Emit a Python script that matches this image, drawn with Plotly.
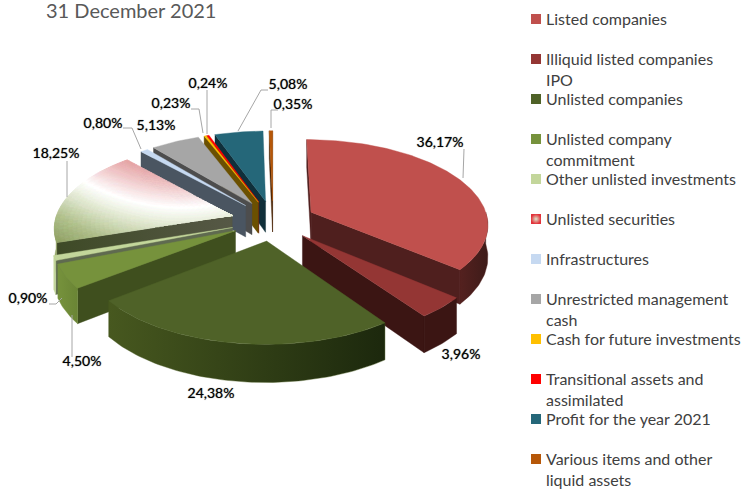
import math
import plotly.graph_objects as go

categories = ["Listed companies", "Illiquid listed companies<br>IPO", "Unlisted companies",
              "Unlisted company<br>commitment", "Other unlisted investments", "Unlisted securities",
              "Infrastructures", "Unrestricted management<br>cash", "Cash for future investments",
              "Transitional assets and<br>assimilated", "Profit for the year 2021",
              "Various items and other<br>liquid assets"]
values = [36.17, 3.96, 24.38, 4.50, 0.90, 18.25, 0.80, 5.13, 0.23, 0.24, 5.08, 0.35]
top_colors = ["#C0504D", "#943634", "#4F6228", "#76923C", "#C3D69B", "#D9363A",
              "#C6D9F1", "#A6A6A6", "#FFC000", "#FF0000", "#256779", "#B65708"]
wall_colors = ["#4F1F1E", "#3B1513", "#3F4F1E", "#3F4F1E", "#5F6A50", "#51553F",
               "#4A5561", "#4D4D4D", "#6B5000", "#701010", "#102F3A", "#4A2404"]
rim_colors = [("#54211F", "#3E1B19"), ("#3B1513", "#3B1513"), ("#47581F", "#1C280D"),
              ("#76923C", "#6A8535"), ("#C3D69B", "#C3D69B"), ("#93A566", "#93A566"),
              ("#C6D9F1", "#C6D9F1"), ("#A6A6A6", "#A6A6A6"), ("#FFC000", "#FFC000"),
              ("#FF0000", "#FF0000"), ("#256779", "#256779"), ("#B65708", "#B65708")]
title_text = "31 December 2021"

# label centre and leader polyline for each slice
label_pos = [(440, 143), (461, 355), (211, 394), (82, 362), (28, 299), (56, 154),
             (103, 124), (156, 126), (171, 104), (208, 84), (288, 85), (293, 105)]
leaders = [[(464, 149), (463, 178)], None, None, [(72, 357), (72, 315)],
           [(49, 304), (56, 304), (62, 298)], [(67, 161), (67, 197)],
           [(123, 128), (132, 128), (141, 149)], None,
           [(191, 109), (199, 109), (203, 133)], [(207, 90), (207, 134)],
           [(268, 90), (261, 90), (238, 131)], [(278, 110), (271, 110), (271, 128)]]

CX, CY, RX, RY, PERSP, HEIGHT, EXPLODE = 273, 220.5, 177, 84, 0.13, 32, 0.24
GRAD_CENTRE = (182, 10)
GRAD_STOPS = [(150, "#DE8B8D"), (175, "#EFC6C7"), (197, "#FFFFFF"), (215, "#E2E9D2"),
              (240, "#B0C08C"), (265, "#8C9E5E")]
WALL_GRADIENTS = {5: ("#3E4A26", "#565846")}
FONT = "Lato"


def project(x, y, z=0.0):
    s = 1 / (1 + PERSP * y)
    return CX + RX * x * s, CY - RY * y * s + HEIGHT * z * s


def hex_rgb(c):
    return tuple(int(c[i:i + 2], 16) for i in (1, 3, 5))


def grad_color(px, py):
    d = math.hypot(px - GRAD_CENTRE[0], py - GRAD_CENTRE[1])
    if d <= GRAD_STOPS[0][0]:
        return GRAD_STOPS[0][1]
    for (d0, c0), (d1, c1) in zip(GRAD_STOPS, GRAD_STOPS[1:]):
        if d <= d1:
            t = (d - d0) / (d1 - d0)
            a, b = hex_rgb(c0), hex_rgb(c1)
            return "#%02X%02X%02X" % tuple(round(a[i] + (b[i] - a[i]) * t) for i in range(3))
    return GRAD_STOPS[-1][1]


fig = go.Figure()


def poly(points, color, gradient=None):
    xs = [p[0] for p in points] + [points[0][0]]
    ys = [p[1] for p in points] + [points[0][1]]
    kw = dict(fillcolor=color)
    if gradient:
        kw = dict(fillgradient=dict(type="horizontal",
                                    colorscale=[[0, gradient[0]], [1, gradient[1]]]))
    fig.add_trace(go.Scatter(x=xs, y=ys, mode="lines", fill="toself",
                             line=dict(width=0.4, color=color), hoverinfo="skip", **kw))


total = sum(values)
slices = []
acc = 0.0
for i, v in enumerate(values):
    a = acc / total * 2 * math.pi
    acc += v
    b = acc / total * 2 * math.pi
    slices.append((i, a, b))


def rim(i, a, b, th, z=0.0):
    m = (a + b) / 2
    ox, oy = EXPLODE * math.sin(m), EXPLODE * math.cos(m)
    return project(ox + math.sin(th), oy + math.cos(th), z)


def apex(a, b, z=0.0):
    m = (a + b) / 2
    return project(EXPLODE * math.sin(m), EXPLODE * math.cos(m), z)


order = sorted(slices, key=lambda s: -math.cos((s[1] + s[2]) / 2))
for i, a, b in order:
    n = max(3, int((b - a) / 0.02))
    ths = [a + (b - a) * k / n for k in range(n + 1)]
    A = apex(a, b)
    top = [A] + [rim(i, a, b, t) for t in ths]
    # interior reference point
    mid = (a + b) / 2
    Im = rim(i, a, b, mid)
    inner = ((A[0] + Im[0]) / 2, (A[1] + Im[1]) / 2)
    for th in (a, b):
        R = rim(i, a, b, th)
        if abs(R[0] - A[0]) < 1e-6:
            continue
        line_y = A[1] + (R[1] - A[1]) / (R[0] - A[0]) * (inner[0] - A[0])
        if inner[1] < line_y:
            poly([A, R, rim(i, a, b, th, 1), apex(a, b, 1)], wall_colors[i], WALL_GRADIENTS.get(i))
    lo, hi = max(a, math.pi / 2), min(b, 3 * math.pi / 2)
    if hi > lo:
        m = max(2, int((hi - lo) / 0.02))
        seg = [lo + (hi - lo) * k / m for k in range(m + 1)]
        pts = [rim(i, a, b, t) for t in seg] + [rim(i, a, b, t, 1) for t in reversed(seg)]
        c0, c1 = rim_colors[i]
        poly(pts, c0, None if c0 == c1 else (c0, c1))
    if i == 5:
        # radial gradient of the "Unlisted securities" slice, painted cell by cell
        cells = {}
        NA, NR = 60, 40
        for ia in range(NA):
            for ir in range(NR):
                t0, t1 = a + (b - a) * ia / NA, a + (b - a) * (ia + 1) / NA
                r0, r1 = ir / NR, (ir + 1) / NR
                m_ = (a + b) / 2
                ox, oy = EXPLODE * math.sin(m_), EXPLODE * math.cos(m_)
                P = [project(ox + r * math.sin(t), oy + r * math.cos(t))
                     for r, t in ((r0, t0), (r1, t0), (r1, t1), (r0, t1))]
                cx_ = sum(p[0] for p in P) / 4
                cy_ = sum(p[1] for p in P) / 4
                col = grad_color(cx_, cy_)
                rgb = hex_rgb(col)
                key = "#%02X%02X%02X" % tuple(min(255, round(c / 5) * 5) for c in rgb)
                cells.setdefault(key, []).append(P)
        for col, plist in cells.items():
            xs, ys = [], []
            for P in plist:
                xs += [p[0] for p in P] + [P[0][0], None]
                ys += [p[1] for p in P] + [P[0][1], None]
            fig.add_trace(go.Scatter(x=xs, y=ys, mode="lines", fill="toself", fillcolor=col,
                                     line=dict(width=0.8, color=col), hoverinfo="skip"))
    else:
        poly(top, top_colors[i])

# leaders
for pts in leaders:
    if pts:
        fig.add_trace(go.Scatter(x=[p[0] for p in pts], y=[p[1] for p in pts], mode="lines",
                                 line=dict(color="#A6A6A6", width=1), hoverinfo="skip"))

# data labels
fig.add_trace(go.Scatter(x=[p[0] for p in label_pos], y=[p[1] for p in label_pos], mode="text",
                         text=[f"{v:.2f}%".replace(".", ",") for v in values],
                         textposition="middle center", hoverinfo="skip",
                         textfont=dict(family=FONT, size=14, color="#000000",
                                       shadow="0 0 1px rgba(0,0,0,0.7)")))

# legend
LEG_X, LEG_Y0, LEG_DY = 531, 19, 40
leg_ys = [LEG_Y0 + LEG_DY * k for k in range(len(categories))]
marker_colors = [c if i != 5 else "#E2323A" for i, c in enumerate(top_colors)]
fig.add_trace(go.Scatter(x=[LEG_X + 5] * len(categories), y=leg_ys, mode="markers",
                         hoverinfo="skip",
                         marker=dict(symbol="square", size=10, color=marker_colors,
                                     gradient=dict(type=["none" if i != 5 else "radial"
                                                         for i in range(len(categories))],
                                                   color="#DCE6CC"))))
for cat, y in zip(categories, leg_ys):
    fig.add_annotation(x=LEG_X + 14, y=y - 11, text=cat, xanchor="left", yanchor="top", showarrow=False,
                       align="left", xref="x", yref="y", borderpad=0,
                       font=dict(family=FONT, size=16, color="#404040"))

fig.add_annotation(x=45, y=10, text=title_text, xanchor="left", yanchor="middle", showarrow=False,
                   xref="x", yref="y", borderpad=0, font=dict(family=FONT, size=20, color="#595959"))

fig.update_layout(width=745, height=489, margin=dict(l=0, r=0, t=0, b=0), showlegend=False,
                  paper_bgcolor="white", plot_bgcolor="white",
                  xaxis=dict(range=[0, 745], visible=False, fixedrange=True),
                  yaxis=dict(range=[489, 0], visible=False, fixedrange=True))
fig.write_html("out.html", config=dict(displayModeBar=False),
               post_script="document.body.style.margin='0';document.documentElement.style.overflow='hidden';")
